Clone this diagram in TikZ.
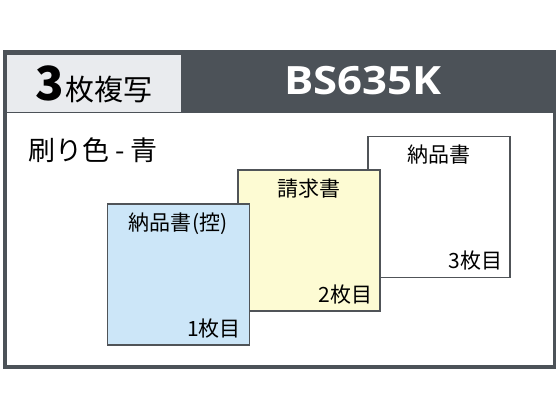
\documentclass[tikz,border=0pt]{standalone}
\usepackage{fontspec}
\usepackage{graphicx}
\setmainfont{Noto Sans CJK JP}
\newfontfamily\modelfont{Open Sans}
\definecolor{bandgray}{RGB}{76, 82, 88}
\definecolor{tabgray}{RGB}{233, 235, 238}
\definecolor{copyblue}{RGB}{204, 230, 248}
\definecolor{copyyellow}{RGB}{253, 251, 211}
\definecolor{edgegray}{RGB}{80, 84, 88}
\usetikzlibrary{positioning}

\begin{document}
\begin{tikzpicture}[x=1pt,y=-1pt,
    sheet/.style={draw=edgegray,line width=1.2pt,anchor=north west,inner sep=0pt,
      minimum width=142pt,minimum height=141pt},
    sheetlabel/.style={inner sep=0pt,font=\fontsize{21}{21}\selectfont},
    countlabel/.style={inner sep=0pt,anchor=south east,font=\fontsize{21}{21}\selectfont}]
        \useasboundingbox (0,0) rectangle (560,420);
        \fill[bandgray] (5,52) rectangle (554.5,112.5);
        \draw[bandgray,line width=3.5pt] (5,52) rectangle (554.5,367);
        \node[fill=tabgray,anchor=north west,inner sep=0pt,minimum width=174pt,minimum height=57pt] (tab) at (7,55) {};
        \node (copies) at (94,84) {{\fontsize{47}{47}\selectfont\bfseries 3}\hspace{1pt}{\fontsize{29}{29}\selectfont 枚複写}};
        \node[text=white] (model) at (363,81) {\scalebox{1.12}[1]{\modelfont\bfseries\fontsize{39}{39}\selectfont BS635K}};
        \node[anchor=west,inner sep=0pt,font=\fontsize{27}{27}\selectfont] (ink) at (28,150) {刷り色 - 青};

        \node[sheet,fill=white] (third) at (367.3,135.7) {};
        \node[sheet,fill=copyyellow] (second) at (237.3,169.3) {};
        \node[sheet,fill=copyblue] (first) at (106.7,203.3) {};

        \node[sheetlabel,below=9pt of third.north] (thirdname) {納品書};
        \node[sheetlabel,below=9pt of second.north] (secondname) {請求書};
        \node[sheetlabel,below=9pt of first.north] (firstname) {納品書\hspace{1pt}(控)};
        \node[countlabel] (thirdno) at ([shift={(-8pt,7pt)}]third.south east) {3枚目};
        \node[countlabel] (secondno) at ([shift={(-8pt,7pt)}]second.south east) {2枚目};
        \node[countlabel] (firstno) at ([shift={(-9pt,7pt)}]first.south east) {1枚目};
      \end{tikzpicture}
\end{document}
